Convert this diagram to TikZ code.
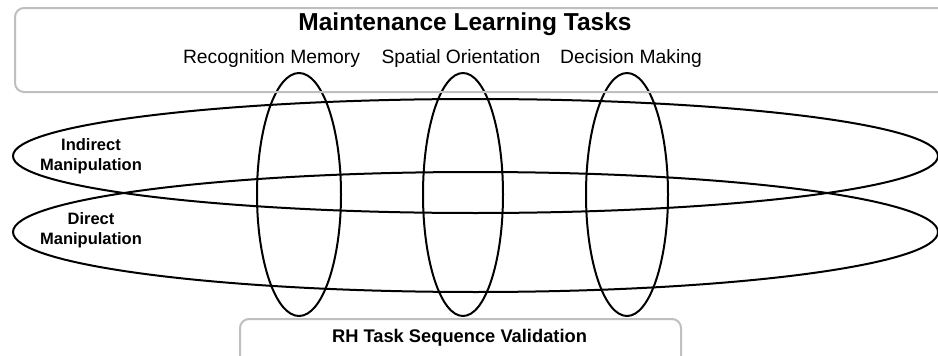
\documentclass[tikz,border=0pt]{standalone}
\usepackage{fontspec}
\setmainfont{Liberation Sans}
\usetikzlibrary{shapes.geometric}
\begin{document}
\begin{tikzpicture}[x=1pt,y=-1pt,
  loop/.style={draw=black, line width=2pt, ellipse, inner sep=0pt},
  panel/.style={draw=black!25, line width=2pt, rounded corners=9pt},
  title/.style={font=\fontsize{24.5}{28}\selectfont\bfseries},
  task/.style={font=\fontsize{19.3}{23}\selectfont},
  side/.style={font=\fontsize{16.5}{20}\selectfont\bfseries, align=center},
  base/.style={font=\fontsize{18.3}{22}\selectfont\bfseries}]
\useasboundingbox (0,0) rectangle (938,356);
\clip (0,0) rectangle (938,356);
\fill[white] (0,0) rectangle (938,356);

% horizontal interaction loops
\node[loop, minimum width=925pt, minimum height=114pt] (ind) at (475.5,156) {};
\node[loop, minimum width=925pt, minimum height=120pt] (dir) at (475.5,232) {};

% vertical task loops
\node[loop, minimum width=84pt, minimum height=243pt] (rec) at (299,194.5) {};
\node[loop, minimum width=80pt, minimum height=243pt] (spa) at (463,194.5) {};
\node[loop, minimum width=82pt, minimum height=243pt] (dec) at (627,194.5) {};

% panels
\draw[panel] (15,8) rectangle (960,92);
\draw[panel] (240,319) rectangle (681,380);

% labels
\node[title] (mlt) at (465,24) {Maintenance Learning Tasks};
\node[task] (trec) at (271.5,59) {Recognition Memory};
\node[task] (tspa) at (461,59) {Spatial Orientation};
\node[task] (tdec) at (631,59) {Decision Making};
\node[side] (lind) at (91,156) {Indirect\\Manipulation};
\node[side] (ldir) at (91,230) {Direct\\Manipulation};
\node[base] (rh) at (459.5,338) {RH Task Sequence Validation};
\end{tikzpicture}
\end{document}
